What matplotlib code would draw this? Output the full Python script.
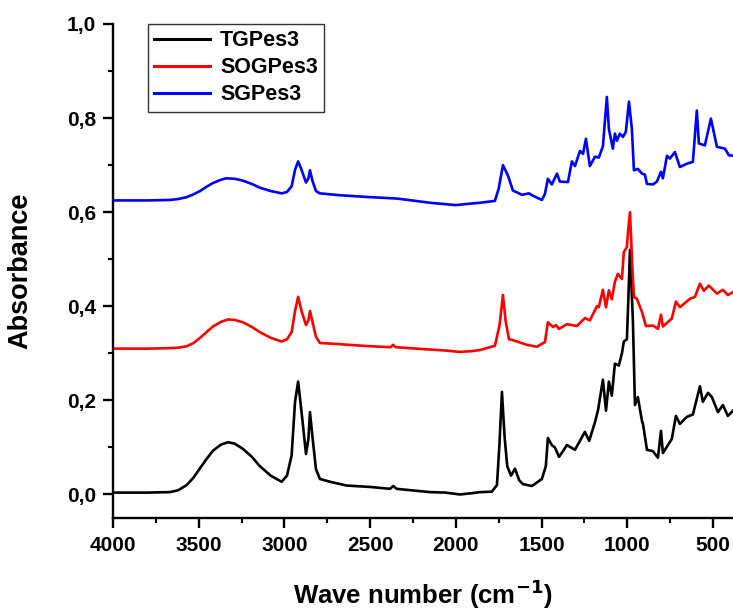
import numpy as np
import matplotlib
matplotlib.use('Agg')
import matplotlib.pyplot as plt
from matplotlib.ticker import MultipleLocator, FuncFormatter

plt.rcParams['font.family'] = ['Liberation Sans', 'DejaVu Sans']
plt.rcParams['font.weight'] = 'bold'
plt.rcParams['mathtext.default'] = 'bf'

# wave numbers (cm-1) and absorbance
tg_wn = [4000, 3800, 3668, 3620, 3570, 3530, 3492, 3455, 3417, 3370, 3329, 3290, 3242,
         3190, 3143, 3080, 3016, 2985, 2958, 2938, 2920, 2900, 2874, 2860, 2851, 2835,
         2816, 2793, 2734, 2637, 2500, 2384, 2365, 2345, 2151, 2060, 1976, 1900, 1860,
         1790, 1760, 1745, 1731, 1715, 1700, 1678, 1655, 1630, 1608, 1556, 1498, 1475,
         1463, 1440, 1422, 1398, 1375, 1352, 1305, 1247, 1222, 1188, 1170, 1142, 1124,
         1107, 1090, 1072, 1049, 1031, 1020, 1002, 995, 984, 967, 955, 938, 914, 908, 885,
         850, 821, 803, 792, 740, 716, 693, 652, 617, 576, 559, 529, 506, 471, 442, 413,
         383]
tg_ab = [0.004, 0.004, 0.005, 0.009, 0.020, 0.036, 0.056, 0.075, 0.093, 0.106, 0.111,
         0.108, 0.097, 0.080, 0.060, 0.040, 0.027, 0.040, 0.083, 0.197, 0.240, 0.175,
         0.086, 0.118, 0.175, 0.118, 0.054, 0.033, 0.027, 0.019, 0.016, 0.012, 0.018,
         0.012, 0.005, 0.004, 0.000, 0.003, 0.005, 0.006, 0.020, 0.110, 0.218, 0.120,
         0.060, 0.040, 0.055, 0.030, 0.022, 0.018, 0.033, 0.060, 0.120, 0.105, 0.100,
         0.080, 0.092, 0.105, 0.095, 0.133, 0.114, 0.154, 0.180, 0.244, 0.178, 0.240,
         0.210, 0.278, 0.274, 0.300, 0.325, 0.330, 0.400, 0.520, 0.370, 0.190, 0.207,
         0.156, 0.150, 0.095, 0.092, 0.078, 0.135, 0.088, 0.118, 0.167, 0.150, 0.165,
         0.170, 0.230, 0.197, 0.216, 0.207, 0.175, 0.190, 0.167, 0.178]

sog_wn = [4000, 3800, 3668, 3620, 3570, 3530, 3492, 3455, 3417, 3370, 3329, 3290, 3242,
          3190, 3143, 3080, 3016, 2985, 2958, 2938, 2920, 2900, 2874, 2860, 2851, 2835,
          2816, 2793, 2700, 2542, 2380, 2367, 2350, 2150, 2060, 1976, 1900, 1860, 1772,
          1745, 1725, 1710, 1690, 1667, 1585, 1527, 1480, 1463, 1433, 1416, 1398, 1352,
          1294, 1247, 1218, 1177, 1166, 1142, 1124, 1107, 1090, 1072, 1055, 1031, 1020,
          1002, 995, 984, 970, 961, 944, 914, 891, 850, 821, 803, 792, 740, 716, 693, 634,
          605, 576, 553, 524, 477, 442, 413, 383]
sog_ab = [0.310, 0.310, 0.311, 0.312, 0.315, 0.322, 0.333, 0.345, 0.357, 0.367, 0.372,
          0.371, 0.366, 0.356, 0.345, 0.333, 0.325, 0.330, 0.345, 0.390, 0.420, 0.390,
          0.360, 0.370, 0.390, 0.365, 0.335, 0.322, 0.320, 0.316, 0.313, 0.318, 0.313,
          0.308, 0.306, 0.303, 0.305, 0.307, 0.316, 0.360, 0.424, 0.370, 0.330, 0.328,
          0.318, 0.314, 0.324, 0.366, 0.356, 0.360, 0.352, 0.362, 0.358, 0.375, 0.370,
          0.400, 0.398, 0.435, 0.398, 0.434, 0.415, 0.452, 0.469, 0.458, 0.515, 0.526,
          0.560, 0.600, 0.480, 0.420, 0.416, 0.388, 0.358, 0.359, 0.352, 0.382, 0.357,
          0.374, 0.410, 0.398, 0.416, 0.420, 0.448, 0.433, 0.444, 0.427, 0.435, 0.424,
          0.430]

sg_wn = [4000, 3800, 3668, 3620, 3570, 3530, 3492, 3455, 3417, 3370, 3340, 3290, 3242,
         3190, 3143, 3080, 3016, 2985, 2958, 2938, 2920, 2900, 2874, 2860, 2851, 2835,
         2816, 2793, 2676, 2500, 2343, 2150, 2000, 1950, 1860, 1772, 1750, 1725, 1696,
         1667, 1614, 1573, 1550, 1498, 1480, 1463, 1440, 1410, 1393, 1346, 1323, 1305,
         1276, 1258, 1241, 1218, 1188, 1166, 1142, 1119, 1107, 1084, 1072, 1060, 1043,
         1025, 1008, 990, 973, 961, 938, 914, 897, 885, 850, 827, 803, 792, 768, 751, 722,
         693, 652, 617, 594, 582, 547, 512, 477, 430, 407, 383]
sg_ab = [0.625, 0.625, 0.626, 0.628, 0.632, 0.638, 0.645, 0.654, 0.662, 0.669, 0.672,
         0.671, 0.667, 0.660, 0.652, 0.645, 0.640, 0.643, 0.655, 0.690, 0.708, 0.690,
         0.663, 0.672, 0.689, 0.665, 0.645, 0.640, 0.636, 0.632, 0.629, 0.620, 0.615,
         0.617, 0.620, 0.624, 0.650, 0.700, 0.678, 0.646, 0.637, 0.640, 0.635, 0.626,
         0.639, 0.671, 0.659, 0.682, 0.665, 0.664, 0.708, 0.698, 0.730, 0.724, 0.756,
         0.698, 0.718, 0.716, 0.740, 0.845, 0.777, 0.735, 0.767, 0.752, 0.767, 0.760,
         0.771, 0.835, 0.777, 0.689, 0.692, 0.682, 0.680, 0.660, 0.659, 0.665, 0.686,
         0.672, 0.720, 0.714, 0.728, 0.696, 0.703, 0.707, 0.816, 0.746, 0.742, 0.799,
         0.739, 0.735, 0.721, 0.720]

series = [('TGPes3', tg_wn, tg_ab, 'black'),
          ('SOGPes3', sog_wn, sog_ab, '#ff0000'),
          ('SGPes3', sg_wn, sg_ab, '#0000ff')]

fig = plt.figure(figsize=(7.33, 6.12), dpi=100)
ax = fig.add_axes([113/733, 1 - 518/612, 1 - 113/733, (518 - 24)/612])

for name, wn, ab, c in series:
    ax.plot(wn, ab, color=c, lw=1.9, label=name, solid_joinstyle='round')

ax.set_xlim(4000, 383)
ax.set_ylim(-0.05, 1.0)
ax.xaxis.set_major_locator(MultipleLocator(500))
ax.xaxis.set_minor_locator(MultipleLocator(250))
ax.yaxis.set_major_locator(MultipleLocator(0.2))
ax.yaxis.set_minor_locator(MultipleLocator(0.1))
ax.yaxis.set_major_formatter(FuncFormatter(lambda v, p: ('%.1f' % v).replace('.', ',')))

ax.spines['right'].set_visible(False)
ax.spines['top'].set_visible(False)
ax.spines['left'].set_linewidth(1.7)
ax.spines['bottom'].set_linewidth(1.7)
ax.tick_params(which='major', direction='out', length=7, width=1.7, labelsize=15)
ax.tick_params(axis='y', which='major', pad=5)
ax.tick_params(axis='x', which='major', pad=6)
ax.tick_params(which='minor', direction='out', length=3.6, width=1.5)

ax.set_xlabel('Wave number (cm$^{-1}$)', fontsize=18.5, fontweight='bold', labelpad=16)
ax.set_ylabel('Absorbance', fontsize=19.5, fontweight='bold', labelpad=24)

leg = ax.legend(loc='upper left', bbox_to_anchor=(35/620, 1.0), fontsize=15.5,
                frameon=True, fancybox=False, handlelength=2.6, borderpad=0.3,
                labelspacing=0.27, handletextpad=0.45, borderaxespad=0)
leg.get_frame().set_edgecolor('black')
leg.get_frame().set_linewidth(1.0)
for line in leg.get_lines():
    line.set_linewidth(2.2)

fig.savefig('out.png', dpi=100)
